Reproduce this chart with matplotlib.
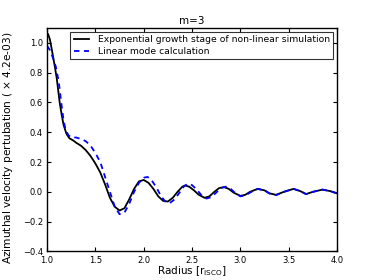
import matplotlib
matplotlib.use("Agg")
import matplotlib.pyplot as plt

# non-linear simulation (exponential growth stage)
r_sim = [1.00, 1.01, 1.03, 1.05, 1.08, 1.10, 1.13, 1.15, 1.17, 1.20, 1.23, 1.27,
         1.30, 1.35, 1.40, 1.45, 1.50, 1.55, 1.60, 1.65, 1.70, 1.75, 1.80, 1.85,
         1.90, 1.95, 2.00, 2.05, 2.10, 2.15, 2.20, 2.25, 2.30, 2.35, 2.40, 2.43,
         2.47, 2.52, 2.57, 2.63, 2.68, 2.73, 2.78, 2.83, 2.88, 2.93, 3.00, 3.05,
         3.10, 3.18, 3.25, 3.30, 3.37, 3.45, 3.55, 3.62, 3.68, 3.75, 3.85, 3.93, 4.00]
v_sim = [1.05, 1.06, 1.02, 0.95, 0.84, 0.76, 0.60, 0.52, 0.45, 0.39, 0.36, 0.345,
         0.33, 0.31, 0.28, 0.24, 0.19, 0.13, 0.05, -0.04, -0.10, -0.125, -0.11, -0.05,
         0.02, 0.07, 0.08, 0.06, 0.02, -0.03, -0.06, -0.065, -0.04, 0.00, 0.035, 0.042,
         0.035, 0.01, -0.02, -0.04, -0.03, 0.00, 0.025, 0.032, 0.02, -0.005, -0.027, -0.02,
         0.00, 0.02, 0.01, -0.01, -0.02, 0.00, 0.02, 0.005, -0.015, 0.00, 0.015, 0.005, -0.01]

# linear mode calculation
r_lin = [1.00, 1.03, 1.06, 1.09, 1.12, 1.15, 1.17, 1.19, 1.22, 1.25, 1.30, 1.35,
         1.40, 1.45, 1.50, 1.55, 1.60, 1.65, 1.70, 1.75, 1.80, 1.85, 1.90, 1.95,
         2.00, 2.04, 2.08, 2.13, 2.18, 2.23, 2.27, 2.32, 2.37, 2.42, 2.46, 2.50,
         2.55, 2.60, 2.65, 2.70, 2.75, 2.80, 2.85, 2.90, 2.95, 3.00, 3.05, 3.10,
         3.18, 3.25, 3.30, 3.37, 3.45, 3.55, 3.62, 3.68, 3.75, 3.85, 3.93, 4.00]
v_lin = [0.98, 0.95, 0.90, 0.84, 0.74, 0.58, 0.48, 0.42, 0.38, 0.365, 0.365, 0.355,
         0.34, 0.31, 0.26, 0.20, 0.10, 0.00, -0.10, -0.15, -0.14, -0.08, 0.00, 0.06,
         0.095, 0.10, 0.08, 0.03, -0.03, -0.07, -0.075, -0.05, -0.005, 0.04, 0.055, 0.045,
         0.015, -0.025, -0.045, -0.035, -0.005, 0.025, 0.035, 0.02, -0.01, -0.03, -0.025, -0.005,
         0.02, 0.01, -0.01, -0.022, 0.00, 0.02, 0.005, -0.015, 0.00, 0.015, 0.005, -0.01]

fig = plt.figure(figsize=(3.74, 2.8), dpi=100)
ax = fig.add_axes([0.126, 0.102, 0.775, 0.798])

ax.plot(r_sim, v_sim, color="black", lw=1.3,
        label="Exponential growth stage of non-linear simulation")
ax.plot(r_lin, v_lin, color="blue", lw=1.3, ls="--", dashes=(3, 2.5),
        label="Linear mode calculation")

ax.set_xlim(1.0, 4.0)
ax.set_ylim(-0.4, 1.1)
ax.set_xticks([1.0, 1.5, 2.0, 2.5, 3.0, 3.5, 4.0])
ax.set_yticks([-0.4, -0.2, 0.0, 0.2, 0.4, 0.6, 0.8, 1.0])
ax.tick_params(direction="in", top=True, right=True, labelsize=6, length=3, pad=3)
for s in ax.spines.values():
    s.set_linewidth(1.0)

ax.set_title("m=3", fontsize=7.5, pad=3)
ax.set_xlabel(r"Radius [r$_{\rm ISCO}$]", fontsize=7.5, labelpad=-0.5)
ax.set_ylabel(r"Azimuthal velocity pertubation ( $\times$ 4.2e-03)", fontsize=7.7)
ax.yaxis.set_label_coords(-0.11, 0.463)

leg = ax.legend(loc="upper right", fontsize=6.7, frameon=True, fancybox=False,
                handlelength=1.7, handletextpad=0.9, borderaxespad=0.4,
                borderpad=0.35, labelspacing=0.3)
leg.get_frame().set_edgecolor("black")
leg.get_frame().set_linewidth(0.8)

fig.savefig("out.png", dpi=100)
